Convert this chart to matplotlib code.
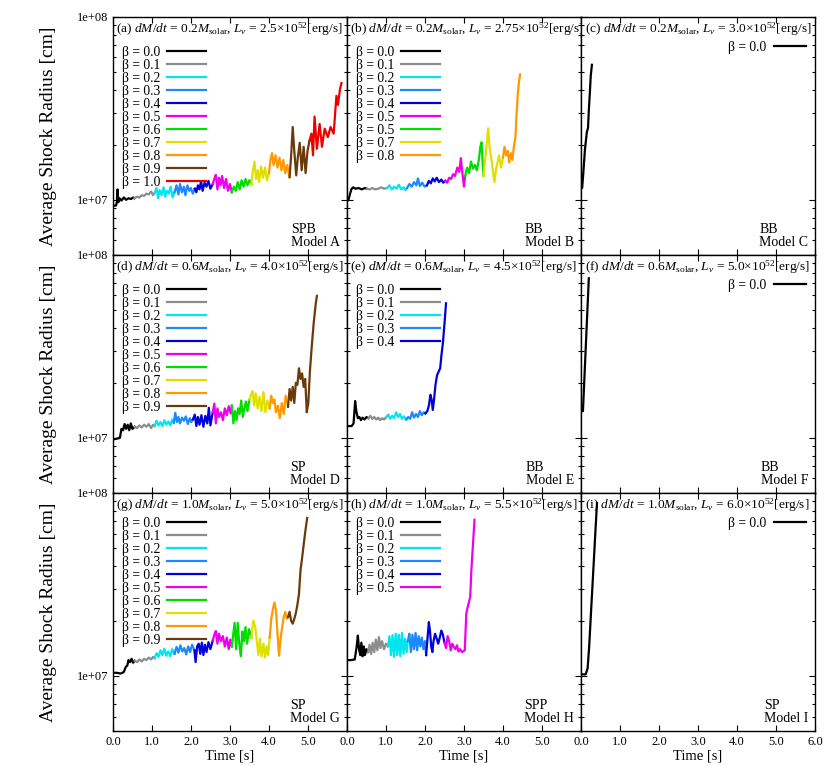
import matplotlib
matplotlib.use("Agg")
import matplotlib.pyplot as plt
from matplotlib.ticker import FixedLocator, LogLocator, NullFormatter, FuncFormatter

plt.rcParams["font.family"] = ["Liberation Serif", "DejaVu Serif"]
plt.rcParams["mathtext.fontset"] = "custom"
plt.rcParams["mathtext.rm"] = "Liberation Serif"
plt.rcParams["mathtext.it"] = "Liberation Serif:italic"
plt.rcParams["mathtext.bf"] = "Liberation Serif:bold"

# radius values below are in units of 1e7 cm
RADIUS_UNIT = 1e7

beta_labels = ["0.0", "0.1", "0.2", "0.3", "0.4", "0.5", "0.6", "0.7", "0.8", "0.9", "1.0"]
beta_labels_b = ["0.0", "0.1", "0.2", "0.3", "0.4", "0.5", "0.5", "0.7", "0.8"]
beta_colors = ["#000000", "#8c8c8c", "#00e5ee", "#1e88ff", "#0000dd", "#ee00ee",
               "#00dd00", "#e0e000", "#ff9900", "#6b3a0a", "#ee0000"]

mdot = ["0.2", "0.2", "0.2", "0.6", "0.6", "0.6", "1.0", "1.0", "1.0"]
lnu = ["2.5", "2.75", "3.0", "4.0", "4.5", "5.0", "5.0", "5.5", "6.0"]
panel_tags = ["a", "b", "c", "d", "e", "f", "g", "h", "i"]
outcome = ["SPB", "BB", "BB", "SP", "BB", "BB", "SP", "SPP", "SP"]
model_names = ["A", "B", "C", "D", "E", "F", "G", "H", "I"]

# ---- Model A ----
a_time = [
    [0, 0.08, 0.10, 0.12, 0.14, 0.17, 0.22, 0.28, 0.34, 0.40, 0.46, 0.52, 0.55],
    [0.55, 0.62, 0.68, 0.74, 0.80, 0.86, 0.92, 0.98, 1.03, 1.07],
    [1.07, 1.12, 1.16, 1.20, 1.25, 1.30, 1.34, 1.38, 1.43, 1.48, 1.53, 1.58],
    [1.58, 1.63, 1.68, 1.72, 1.77, 1.82, 1.86, 1.91, 1.96, 2.00, 2.05, 2.10],
    [2.10, 2.14, 2.18, 2.22, 2.26, 2.30, 2.35, 2.40, 2.45, 2.50, 2.56],
    [2.56, 2.60, 2.64, 2.68, 2.72, 2.76, 2.80, 2.85, 2.90, 2.95, 3.00, 3.05],
    [3.05, 3.10, 3.15, 3.20, 3.25, 3.30, 3.35, 3.40, 3.45, 3.50, 3.55],
    [3.55, 3.59, 3.63, 3.67, 3.71, 3.75, 3.80, 3.85, 3.90, 3.95, 4.00],
    [4.00, 4.04, 4.08, 4.12, 4.17, 4.22, 4.27, 4.32, 4.37, 4.42, 4.47, 4.53],
    [4.53, 4.57, 4.61, 4.65, 4.70, 4.74, 4.79, 4.84, 4.89, 4.94, 4.99, 5.04],
    [5.04, 5.09, 5.13, 5.17, 5.23, 5.30, 5.36, 5.43, 5.51, 5.58, 5.66, 5.73, 5.77, 5.82, 5.86],
]
a_radius = [
    [0.93, 0.93, 0.97, 1.14, 0.97, 1.02, 0.99, 1.03, 1.00, 1.02, 1.01, 1.03, 1.02],
    [1.02, 1.04, 1.03, 1.06, 1.05, 1.08, 1.07, 1.11, 1.06, 1.09],
    [1.09, 1.16, 1.02, 1.13, 1.06, 1.17, 1.04, 1.12, 1.08, 1.18, 1.03, 1.10],
    [1.10, 1.20, 1.07, 1.22, 1.10, 1.18, 1.06, 1.20, 1.12, 1.16, 1.08, 1.15],
    [1.15, 1.10, 1.20, 1.14, 1.26, 1.12, 1.24, 1.18, 1.27, 1.15, 1.22],
    [1.22, 1.30, 1.37, 1.14, 1.32, 1.20, 1.35, 1.16, 1.30, 1.12, 1.22, 1.10],
    [1.10, 1.18, 1.12, 1.25, 1.14, 1.28, 1.18, 1.30, 1.20, 1.28, 1.22],
    [1.22, 1.45, 1.62, 1.30, 1.45, 1.25, 1.52, 1.32, 1.50, 1.28, 1.40],
    [1.40, 1.65, 1.80, 1.55, 1.75, 1.50, 1.70, 1.45, 1.65, 1.40, 1.55, 1.33],
    [1.33, 1.75, 2.50, 1.85, 1.36, 1.70, 2.05, 1.45, 1.95, 1.40, 1.85, 2.10],
    [2.10, 2.30, 1.75, 2.85, 1.90, 2.60, 1.95, 2.45, 2.20, 2.50, 2.30, 3.70, 3.30, 4.00, 4.35],
]

# ---- Model B ----
b_time = [
    [0, 0.04, 0.08, 0.12, 0.16, 0.22, 0.30, 0.38, 0.46, 0.51],
    [0.51, 0.58, 0.65, 0.72, 0.80, 0.88, 0.95, 1.03],
    [1.03, 1.09, 1.15, 1.21, 1.27, 1.33, 1.39, 1.45, 1.50, 1.54],
    [1.54, 1.60, 1.66, 1.72, 1.78, 1.82, 1.87, 1.93, 1.99, 2.05],
    [2.05, 2.10, 2.15, 2.20, 2.25, 2.30, 2.36, 2.42, 2.47, 2.52],
    [2.52, 2.57, 2.62, 2.67, 2.72, 2.77, 2.83, 2.88, 2.92, 2.96, 3.00, 3.03],
    [3.03, 3.08, 3.13, 3.18, 3.23, 3.28, 3.33, 3.38, 3.42, 3.45, 3.48, 3.50],
    [3.50, 3.55, 3.59, 3.62, 3.66, 3.70, 3.74, 3.78, 3.82, 3.86, 3.90, 3.95, 4.00],
    [4.00, 4.04, 4.08, 4.12, 4.16, 4.20, 4.24, 4.28, 4.32, 4.35, 4.38, 4.41, 4.44],
]
b_radius = [
    [0.98, 1.00, 1.08, 1.15, 1.17, 1.15, 1.16, 1.14, 1.16, 1.15],
    [1.15, 1.14, 1.16, 1.14, 1.15, 1.17, 1.15, 1.16],
    [1.16, 1.20, 1.14, 1.18, 1.15, 1.21, 1.14, 1.17, 1.13, 1.16],
    [1.16, 1.22, 1.18, 1.25, 1.20, 1.31, 1.19, 1.24, 1.18, 1.20],
    [1.20, 1.27, 1.23, 1.31, 1.26, 1.32, 1.25, 1.29, 1.24, 1.27],
    [1.27, 1.24, 1.32, 1.30, 1.38, 1.35, 1.50, 1.42, 1.69, 1.40, 1.18, 1.35],
    [1.35, 1.50, 1.40, 1.62, 1.48, 1.55, 1.45, 1.65, 1.95, 2.06, 1.60, 1.35],
    [1.35, 1.70, 2.10, 2.46, 1.90, 1.70, 1.45, 1.25, 1.45, 1.60, 1.75, 1.50, 1.70],
    [1.70, 1.95, 1.75, 1.85, 1.60, 1.80, 1.65, 1.95, 2.20, 3.00, 3.80, 4.40, 4.85],
]

# ---- Model C ----
c_time = [[0.0, 0.03, 0.06, 0.10, 0.15, 0.18, 0.20, 0.23, 0.25, 0.28]]
c_radius = [[1.16, 1.16, 1.41, 1.87, 2.35, 2.47, 3.07, 3.95, 4.77, 5.47]]

# ---- Model D ----
d_time = [
    [0, 0.10, 0.18, 0.22, 0.26, 0.30, 0.34, 0.38, 0.42, 0.46, 0.50, 0.56],
    [0.56, 0.62, 0.68, 0.74, 0.80, 0.86, 0.92, 0.98, 1.03, 1.07],
    [1.07, 1.12, 1.17, 1.22, 1.27, 1.32, 1.37, 1.42, 1.47, 1.52, 1.56],
    [1.56, 1.60, 1.64, 1.68, 1.72, 1.77, 1.82, 1.87, 1.92, 1.97, 2.01, 2.05],
    [2.05, 2.10, 2.14, 2.18, 2.22, 2.27, 2.32, 2.37, 2.42, 2.46, 2.50, 2.56],
    [2.56, 2.60, 2.64, 2.68, 2.72, 2.77, 2.82, 2.87, 2.92, 2.97, 3.02, 3.05],
    [3.05, 3.09, 3.13, 3.17, 3.21, 3.25, 3.29, 3.33, 3.37, 3.41, 3.45, 3.50],
    [3.50, 3.54, 3.58, 3.62, 3.66, 3.71, 3.76, 3.81, 3.86, 3.91, 3.96, 4.02],
    [4.02, 4.06, 4.10, 4.14, 4.18, 4.23, 4.28, 4.33, 4.38, 4.43, 4.49],
    [4.49, 4.53, 4.57, 4.61, 4.65, 4.69, 4.73, 4.77, 4.81, 4.85, 4.89, 4.93, 4.97,
     5.01, 5.05, 5.10, 5.15, 5.20, 5.23],
]
d_radius = [
    [0.98, 0.99, 1.00, 1.12, 1.10, 1.19, 1.12, 1.18, 1.10, 1.20, 1.12, 1.15],
    [1.15, 1.13, 1.17, 1.14, 1.18, 1.15, 1.19, 1.13, 1.18, 1.16],
    [1.16, 1.24, 1.17, 1.22, 1.16, 1.25, 1.18, 1.23, 1.17, 1.26, 1.21],
    [1.21, 1.37, 1.22, 1.30, 1.20, 1.29, 1.24, 1.31, 1.19, 1.28, 1.22, 1.26],
    [1.26, 1.34, 1.16, 1.30, 1.18, 1.33, 1.15, 1.32, 1.20, 1.46, 1.17, 1.38],
    [1.38, 1.54, 1.20, 1.45, 1.30, 1.38, 1.25, 1.45, 1.33, 1.49, 1.36, 1.50],
    [1.50, 1.20, 1.40, 1.25, 1.45, 1.35, 1.60, 1.30, 1.45, 1.58, 1.40, 1.62],
    [1.62, 1.72, 1.80, 1.50, 1.75, 1.45, 1.68, 1.40, 1.78, 1.38, 1.60, 1.45],
    [1.45, 1.70, 1.55, 1.62, 1.38, 1.50, 1.28, 1.55, 1.35, 1.70, 1.48],
    [1.48, 1.85, 1.60, 1.90, 1.55, 2.00, 1.95, 2.40, 2.10, 2.25, 1.90, 2.10, 1.38,
     1.55, 2.30, 3.20, 4.30, 5.40, 5.97],
]

# ---- Model E ----
e_time = [
    [0, 0.12, 0.17, 0.21, 0.24, 0.28, 0.32, 0.36, 0.40, 0.45, 0.50, 0.55],
    [0.55, 0.60, 0.65, 0.70, 0.75, 0.80, 0.85, 0.90, 0.95, 1.01],
    [1.01, 1.06, 1.11, 1.16, 1.21, 1.26, 1.31, 1.36, 1.41, 1.46, 1.52],
    [1.52, 1.57, 1.62, 1.67, 1.72, 1.77, 1.82, 1.87, 1.92, 1.97, 2.01],
    [2.01, 2.06, 2.10, 2.14, 2.17, 2.20, 2.23, 2.27, 2.31, 2.35, 2.39, 2.42, 2.46, 2.50, 2.54],
]
e_radius = [
    [1.16, 1.16, 1.20, 1.59, 1.40, 1.28, 1.30, 1.25, 1.29, 1.26, 1.30, 1.28],
    [1.28, 1.32, 1.27, 1.30, 1.26, 1.29, 1.25, 1.28, 1.26, 1.30],
    [1.30, 1.34, 1.27, 1.32, 1.28, 1.38, 1.30, 1.35, 1.27, 1.31, 1.26],
    [1.26, 1.30, 1.27, 1.38, 1.29, 1.35, 1.30, 1.40, 1.33, 1.38, 1.36],
    [1.36, 1.40, 1.50, 1.72, 1.62, 1.42, 1.60, 1.95, 2.20, 2.30, 2.40, 2.80, 3.30, 4.20, 5.44],
]

# ---- Model F ----
f_time = [[0.0, 0.05, 0.08, 0.11, 0.14, 0.17, 0.20]]
f_radius = [[1.40, 1.40, 1.96, 2.73, 3.82, 5.33, 7.45]]

# ---- Model G ----
g_time = [
    [0, 0.10, 0.20, 0.28, 0.33, 0.37, 0.40, 0.44, 0.48, 0.52, 0.56],
    [0.56, 0.62, 0.68, 0.74, 0.80, 0.86, 0.92, 0.98, 1.03, 1.07],
    [1.07, 1.12, 1.17, 1.22, 1.27, 1.32, 1.37, 1.42, 1.47, 1.52, 1.58],
    [1.58, 1.63, 1.68, 1.73, 1.78, 1.83, 1.88, 1.93, 1.98, 2.03, 2.09],
    [2.09, 2.12, 2.16, 2.20, 2.24, 2.28, 2.32, 2.36, 2.40, 2.45, 2.50, 2.56],
    [2.56, 2.60, 2.64, 2.68, 2.72, 2.77, 2.82, 2.87, 2.92, 2.97, 3.01, 3.05],
    [3.05, 3.08, 3.12, 3.16, 3.20, 3.24, 3.28, 3.32, 3.36, 3.40, 3.44, 3.49, 3.55],
    [3.55, 3.60, 3.65, 3.69, 3.73, 3.77, 3.81, 3.86, 3.90, 3.94, 3.98, 4.02],
    [4.02, 4.06, 4.10, 4.14, 4.18, 4.22, 4.26, 4.30, 4.34, 4.38, 4.42, 4.46, 4.49],
    [4.49, 4.53, 4.57, 4.61, 4.65, 4.69, 4.73, 4.77, 4.81, 4.85, 4.89, 4.93, 4.98],
]
g_radius = [
    [1.04, 1.04, 1.03, 1.05, 1.12, 1.14, 1.22, 1.19, 1.24, 1.18, 1.21],
    [1.21, 1.19, 1.23, 1.20, 1.24, 1.22, 1.26, 1.23, 1.27, 1.25],
    [1.25, 1.33, 1.27, 1.38, 1.30, 1.41, 1.29, 1.36, 1.28, 1.40, 1.32],
    [1.32, 1.44, 1.34, 1.47, 1.36, 1.42, 1.31, 1.45, 1.35, 1.48, 1.38],
    [1.38, 1.19, 1.45, 1.50, 1.32, 1.52, 1.30, 1.48, 1.35, 1.53, 1.40, 1.56],
    [1.56, 1.68, 1.76, 1.50, 1.70, 1.55, 1.65, 1.45, 1.62, 1.40, 1.58, 1.45],
    [1.45, 1.65, 1.95, 1.40, 1.95, 1.50, 1.28, 1.75, 1.55, 1.85, 1.50, 1.80, 1.62],
    [1.62, 2.01, 1.85, 1.55, 1.30, 1.60, 1.28, 1.50, 1.26, 1.45, 1.30, 1.62],
    [1.62, 2.05, 2.30, 2.52, 2.30, 1.70, 1.29, 1.60, 1.85, 2.10, 2.24, 2.05, 2.10],
    [2.10, 2.24, 2.00, 1.93, 2.05, 2.20, 2.45, 2.80, 3.79, 4.40, 5.20, 6.10, 7.30],
]

# ---- Model H ----
h_time = [
    [0, 0.10, 0.20, 0.25, 0.28, 0.31, 0.34, 0.37, 0.40, 0.43, 0.46, 0.50, 0.54],
    [0.54, 0.58, 0.62, 0.66, 0.70, 0.74, 0.78, 0.82, 0.86, 0.90, 0.95, 1.00, 1.05],
    [1.05, 1.09, 1.13, 1.17, 1.21, 1.25, 1.29, 1.33, 1.37, 1.41, 1.45, 1.49, 1.53, 1.56],
    [1.56, 1.60, 1.64, 1.68, 1.72, 1.76, 1.80, 1.84, 1.88, 1.92, 1.96, 2.00, 2.03],
    [2.03, 2.07, 2.10, 2.13, 2.16, 2.19, 2.22, 2.26, 2.30, 2.34, 2.38, 2.42, 2.46, 2.50],
    [2.50, 2.54, 2.58, 2.62, 2.66, 2.70, 2.74, 2.78, 2.82, 2.86, 2.90, 2.95, 3.02,
     3.06, 3.10, 3.13, 3.16, 3.19, 3.23, 3.27],
]
h_radius = [
    [1.22, 1.22, 1.23, 1.45, 1.66, 1.40, 1.30, 1.52, 1.28, 1.45, 1.30, 1.40, 1.35],
    [1.35, 1.48, 1.32, 1.52, 1.35, 1.58, 1.38, 1.63, 1.42, 1.55, 1.40, 1.50, 1.45],
    [1.45, 1.65, 1.30, 1.67, 1.27, 1.70, 1.30, 1.68, 1.28, 1.72, 1.32, 1.60, 1.35, 1.55],
    [1.55, 1.70, 1.35, 1.68, 1.40, 1.72, 1.38, 1.65, 1.45, 1.62, 1.40, 1.55, 1.30],
    [1.30, 1.65, 1.97, 1.75, 1.45, 1.35, 1.55, 1.70, 1.60, 1.50, 1.62, 1.77, 1.68, 1.52],
    [1.52, 1.42, 1.65, 1.55, 1.38, 1.50, 1.44, 1.40, 1.47, 1.36, 1.40, 1.35, 1.38,
     2.19, 2.40, 2.54, 2.70, 3.79, 5.20, 7.14],
]

# ---- Model I ----
i_time = [[0.0, 0.12, 0.17, 0.21, 0.25, 0.29, 0.33, 0.37, 0.41]]
i_radius = [[1.02, 1.02, 1.10, 1.45, 2.10, 3.00, 4.30, 6.20, 8.80]]

all_time = [a_time, b_time, c_time, d_time, e_time, f_time, g_time, h_time, i_time]
all_radius = [a_radius, b_radius, c_radius, d_radius, e_radius, f_radius, g_radius, h_radius, i_radius]

x_ticks = [0, 1, 2, 3, 4, 5, 6]


def main():
    fig, axes = plt.subplots(3, 3, figsize=(8.30, 7.66), dpi=100)
    fig.subplots_adjust(left=0.136, right=0.982, top=0.978, bottom=0.0457,
                        wspace=0, hspace=0)

    # the bottom row's legends sit a little higher in the original
    row_shift = [0.0, 0.0, 0.022]

    for k, ax in enumerate(axes.flat):
        row, col = divmod(k, 3)
        dy = row_shift[row]
        labels = beta_labels_b if k == 1 else beta_labels
        for j, (t, r) in enumerate(zip(all_time[k], all_radius[k])):
            ax.plot(t, [v * RADIUS_UNIT for v in r], color=beta_colors[j], lw=1.6,
                    label="β = " + labels[j])

        ax.set_yscale("log")
        ax.set_ylim(5e6, 1e8)
        ax.set_xlim(0, 6)
        ax.yaxis.set_major_locator(FixedLocator([1e7, 1e8]))
        ax.yaxis.set_minor_locator(LogLocator(base=10, subs=[2, 3, 4, 5, 6, 7, 8, 9]))
        ax.yaxis.set_minor_formatter(NullFormatter())
        ax.set_xticks(x_ticks)
        ax.tick_params(which="both", direction="in", top=True, right=True,
                       labelsize=9, width=0.8)
        ax.tick_params(which="major", length=4)
        ax.tick_params(which="minor", length=2.5)

        if col == 0:
            ax.yaxis.set_major_formatter(FuncFormatter(lambda v, p: f"{v:.0e}"))
            ax.set_ylabel("Average Shock Radius [cm]", fontsize=14, labelpad=14)
        else:
            ax.yaxis.set_major_formatter(NullFormatter())

        if row == 2:
            tl = [f"{x:.1f}" for x in x_ticks]
            if col < 2:
                tl[-1] = ""
            ax.set_xticklabels(tl)
            ax.set_xlabel("Time [s]", fontsize=10.5, labelpad=1)
        else:
            ax.set_xticklabels([])

        for s in ax.spines.values():
            s.set_linewidth(1.0)

        title = (f"({panel_tags[k]}) " + r"$dM/dt$ = " + mdot[k] + r"$M_{\rm solar}$, "
                 + r"$L_{\nu}$ = " + lnu[k] + r"$\times$10$^{52}$[erg/s]")
        ax.text(0.015, 0.985, title, transform=ax.transAxes, ha="left",
                va="top", fontsize=9.6)

        if len(all_time[k]) > 1:
            ax.legend(loc="upper left", bbox_to_anchor=(0.04, 0.878 + dy), frameon=False,
                      markerfirst=False, fontsize=9.8, handlelength=2.8,
                      handletextpad=0.5, labelspacing=0.0, borderpad=0,
                      borderaxespad=0)
        else:
            ax.legend(loc="upper right", bbox_to_anchor=(0.96, 0.898), frameon=False,
                      markerfirst=False, fontsize=9.8, handlelength=2.3,
                      handletextpad=0.6, borderpad=0, borderaxespad=0)

        ax.text(0.97, 0.025, f"{outcome[k]}\nModel {model_names[k]}",
                transform=ax.transAxes, ha="right", va="bottom",
                multialignment="left", fontsize=10, linespacing=1.0)

    fig.savefig("out.png", dpi=100)
    plt.close(fig)


if __name__ == "__main__":
    main()
